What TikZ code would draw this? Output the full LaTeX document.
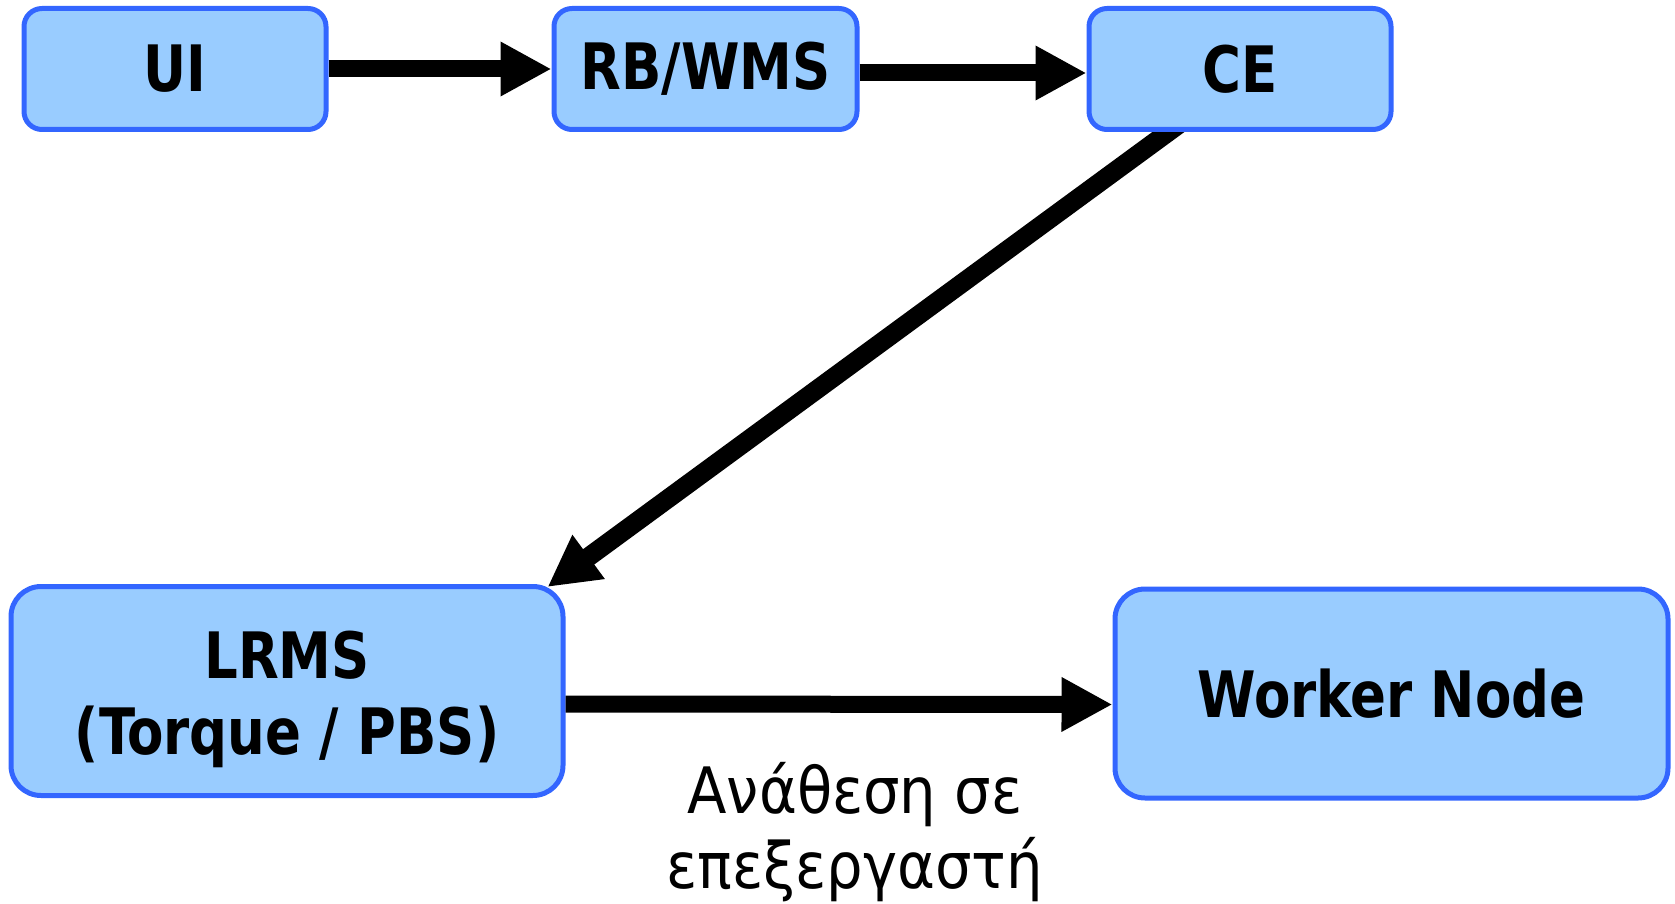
\documentclass[tikz,border=0pt]{standalone}
\usepackage{fontspec}
\setmainfont{DejaVu Sans Condensed}
\newfontfamily\boxfont[FakeStretch=0.92]{DejaVu Sans Condensed}
\usetikzlibrary{arrows.meta}
\pgfdeclarelayer{background}
\pgfsetlayers{background,main}
\definecolor{boxfill}{HTML}{99CCFF}
\definecolor{boxline}{HTML}{3366FF}
\begin{document}
\begin{tikzpicture}[x=1pt,y=-1pt,
  box/.style={draw=boxline, fill=boxfill, line width=5pt, rounded corners=18pt,
    font=\boxfont\fontsize{64}{76}\selectfont\bfseries, align=center, inner sep=0pt},
  bigbox/.style={box, rounded corners=30pt},
  arr/.style={line width=17pt, -{Triangle[length=51pt,width=51pt]}},
  lbl/.style={font=\fontsize{64}{75}\selectfont, align=center, inner sep=0pt}]
\useasboundingbox (0,0) rectangle (1675,904);
\node[box, minimum width=302pt, minimum height=121pt] (UI) at (175,69) {UI};
\node[box, minimum width=303pt, minimum height=121pt] (RB) at (705.5,69) {RB/WMS};
\node[box, minimum width=302pt, minimum height=121pt] (CE) at (1240,69) {CE};
\node[bigbox, minimum width=552pt, minimum height=209pt] (LRMS) at (287,691) {\rule{0pt}{64pt}LRMS\\(Torque / PBS)};
\node[bigbox, minimum width=553pt, minimum height=209pt] (WN) at (1391.5,693.5) {Worker Node};
\node[lbl] (lab) at (855,832) {Ανάθεση σε\\επεξεργαστή};
\coordinate (ceout) at ([xshift=-58pt,yshift=10pt]CE.south);
\coordinate (lrmsin) at ([xshift=-18pt,yshift=-3pt]LRMS.north east);
\begin{pgfonlayer}{background}
\draw[arr, line width=19pt] (ceout) -- (lrmsin);
\end{pgfonlayer}
\draw[arr] (UI.east) -- (RB.west);
\draw[arr] ([yshift=-4pt]RB.east) -- ([yshift=-4pt]CE.west);
\draw[arr] ([yshift=-13pt]LRMS.east) -- ([yshift=-11pt]WN.west);
\end{tikzpicture}
\end{document}
